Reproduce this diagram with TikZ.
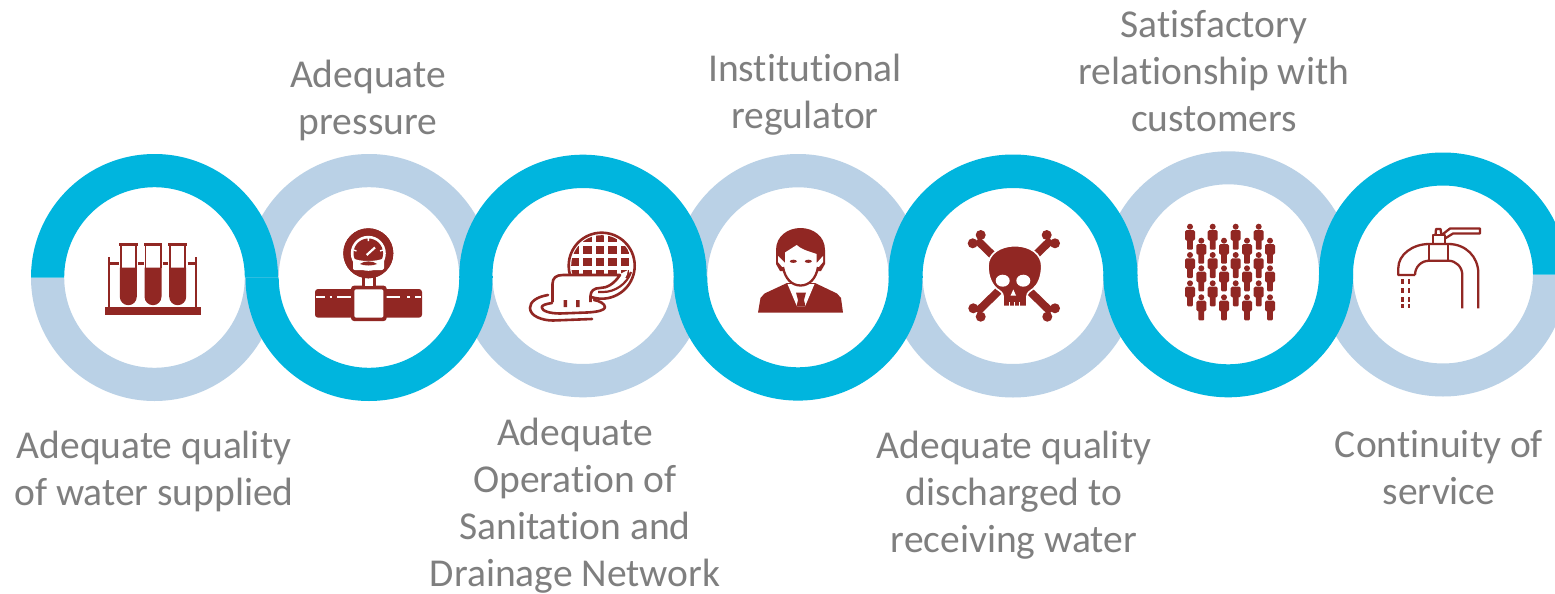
\documentclass[tikz,border=0pt]{standalone}
\usepackage{fontspec}
\setmainfont{Carlito}[Ligatures=NoCommon]
\definecolor{ringblue}{HTML}{00B5DE}
\definecolor{ringlight}{HTML}{BAD1E6}
\definecolor{iconred}{HTML}{912723}
\definecolor{labelgrey}{HTML}{7F7F7F}
\tikzset{
  lbl/.style={text=labelgrey,align=center,inner sep=0pt,font=\fontsize{39.5}{47}\selectfont},
  iconline/.style={draw=iconred,line width=2.3pt,line join=round}
}
% cx cy Rx Ry rx ry colour endangle (0 = upper half, 360 = lower half)
\newcommand{\halfring}[8]{\fill[#7] ({#1-#3},#2) arc[start angle=180,end angle=#8,x radius=#3pt,y radius=#4pt] -- ({#1+#5},#2) arc[start angle=#8,end angle=180,x radius=#5pt,y radius=#6pt] -- cycle;}
\newcommand{\personicon}[2]{%
  \fill[iconred] (#1,#2) circle[radius=3pt];
  \fill[iconred,rounded corners=1.5pt] ({#1-5},{#2+3.4}) rectangle ({#1+5},{#2+14});
  \fill[iconred,rounded corners=1pt] ({#1-2.9},{#2+10}) rectangle ({#1+2.9},{#2+23});
}
\begin{document}
\begin{tikzpicture}[x=1pt,y=-1pt]
\clip (0,0) rectangle (1555,594);
\fill[white] (0,0) rectangle (1555,594);
% rings: light halves below, blue halves above
\halfring{154.5}{277.5}{123.5}{123.5}{90.3}{90.3}{ringlight}{360}
\halfring{369}{277.5}{123.5}{123.5}{90.3}{90.3}{ringlight}{0}
\halfring{583}{276}{123.7}{121.3}{90.6}{88}{ringlight}{360}
\halfring{798}{277.3}{124.4}{123.3}{90.7}{90}{ringlight}{0}
\halfring{1013}{276}{124.5}{121.5}{90.4}{88}{ringlight}{360}
\halfring{1228.2}{274.3}{124.9}{123}{90.8}{90}{ringlight}{0}
\halfring{1443}{274.5}{124}{122}{90}{89}{ringlight}{360}
\halfring{154.5}{277.5}{123.5}{123.5}{90.3}{90.3}{ringblue}{0}
\halfring{369}{277.5}{123.5}{123.5}{90.3}{90.3}{ringblue}{360}
\fill[ringblue] (459.3,275.5) rectangle (492.5,278);
\halfring{583}{276}{123.7}{121.3}{90.6}{88}{ringblue}{0}
\fill[ringblue] (673.6,275.5) rectangle (706.7,277.8);
\halfring{798}{277.3}{124.4}{123.3}{90.7}{90}{ringblue}{360}
\fill[ringblue] (888.6,275.5) rectangle (922.5,277.8);
\halfring{1013}{276}{124.5}{121.5}{90.4}{88}{ringblue}{0}
\halfring{1228.2}{274.3}{124.9}{123}{90.8}{90}{ringblue}{360}
\fill[ringblue] (1319,274) rectangle (1353,275);
\halfring{1443}{274.5}{124}{122}{90}{89}{ringblue}{0}
% icon 1: test tubes
\fill[iconred] (105,306.7) rectangle (201,315);
\foreach \c in {128.3,153,177.7}{
  \fill[iconred] ({\c-9.3},243) rectangle ({\c+9.3},246);
  \draw[iconred,line width=1.8pt] ({\c-7.6},245) -- ({\c-7.6},268) ({\c+7.6},245) -- ({\c+7.6},268);
  \fill[iconred] ({\c-8.5},267.7) -- ({\c-8.5},296.7) arc[start angle=180,end angle=360,radius=8.5pt] -- ({\c+8.5},267.7) -- cycle;
}
\draw[iconline,line width=2.4pt] (109,263.5) -- (118.5,263.5) (138,263.5) -- (143.5,263.5) (162.5,263.5) -- (168,263.5) (187.5,263.5) -- (196,263.5);
\draw[iconline,line width=2.2pt] (109,307) -- (109,256.7) (196,307) -- (196,256.7);
% icon 2: gauge on pipe
\fill[iconred,rounded corners=3pt] (315,289) rectangle (422,317.7);
\draw[white,line width=2pt] (316,297.3) -- (325,297.3) (329.5,297.3) -- (332,297.3) (337,297.3) -- (351,297.3) (386,297.3) -- (400,297.3) (407,297.3) -- (410,297.3) (415,297.3) -- (421,297.3);
\fill[iconred,rounded corners=3pt] (351,285.7) rectangle (386.7,321);
\fill[white,rounded corners=1.5pt] (354.3,289.3) rectangle (383.3,317.7);
\fill[iconred] (361.7,275) rectangle (376,286);
\fill[white] (364.5,278) rectangle (373.2,286);
\fill[iconred] (368.3,253.3) circle[radius=25pt];
\fill[white] (368.3,253.3) circle[radius=17.5pt];
\fill[iconred] (368.3,253.3) circle[radius=14.8pt];
\draw[white,line width=2.2pt] (366.7,255) -- (375,247.5);
\draw[white,line width=1.4pt] (368.3,238) -- (368.3,241) (353.5,250) -- (356.5,251) (383,250) -- (380,251);
\fill[white] (353,258) .. controls (358,262) and (378,262) .. (384,258) -- (384,270) -- (353,270) -- cycle;
\fill[iconred] (360,264) .. controls (364,260.5) and (373,260.5) .. (377,264) .. controls (373,266) and (364,266) .. (360,264) -- cycle;
\draw[iconred,line width=3pt] (368.3,253.3) circle[radius=23.5pt];
% icon 3: manhole
\begin{scope}
\clip (601.7,265.7) circle[radius=30.5pt];
\foreach \gx in {-2,-1,0,1,2}{\foreach \gy in {-1,0,1,2}{
  \fill[iconred] ({600+12.5*\gx-4.4},{250+12*\gy-4.4}) rectangle ({600+12.5*\gx+4.4},{250+12*\gy+4.4});
}}
\end{scope}
\draw[iconred,line width=2.6pt] (601.7,265.7) circle[radius=33pt];
\fill[white] (552,302) -- (552,284) .. controls (552,278) and (556,275) .. (563,275) -- (618,275) .. controls (612,284) and (607,288) .. (600,288) .. controls (594,288) and (590,291) .. (590,296) -- (590,302) -- cycle;
\fill[white] (618,275) -- (628,270) .. controls (626,283) and (614,292) .. (602,292) -- (596,292) .. controls (607,288) and (612,284) .. (618,275) -- cycle;
\draw[iconline,line width=2.6pt] (552.5,302) -- (552.5,284) .. controls (552.5,278) and (556,275) .. (563,275) -- (620,275) .. controls (614,284) and (607,288) .. (600,288) .. controls (594,288) and (590.5,291) .. (590.5,296) -- (590.5,302);
\draw[iconline,line width=2.2pt] (598,292) -- (603,292) .. controls (615,292) and (627,284) .. (631,272);
\fill[iconred] (563.5,300) rectangle (567,307) (576,300) rectangle (579.5,307);
\draw[iconline,line cap=round,line width=2.6pt] (548,295) .. controls (536,297) and (530,302) .. (530,308) .. controls (530,316) and (542,320.5) .. (553,320.5) -- (592,319);
\draw[iconline,line cap=round,line width=2.6pt] (552,303) .. controls (545,304) and (541.7,305.5) .. (541.7,307.3) .. controls (541.7,311) and (550,313.5) .. (560,313.5) -- (587,312.5) .. controls (598,312) and (605,310) .. (605,307.3) .. controls (605,304) and (600,301) .. (594,300);
% icon 4: man
\fill[iconred] (758,312.7) -- (760.5,298) -- (764.5,293.5) -- (787,283) -- (815,283) -- (837,293.5) -- (841,298) -- (843,312.7) -- cycle;
\fill[white] (787.5,284) -- (797,306.5) -- (805,306.5) -- (814.5,284) -- cycle;
\fill[iconred] (796,292.5) -- (806,292.5) -- (804,300) -- (805.5,306.5) -- (796.5,306.5) -- (798,300) -- cycle;
\fill[iconred] (776,264) -- (776,250) .. controls (776,236) and (788,228) .. (800.5,228) .. controls (813,228) and (825,236) .. (825,250) -- (825,264) -- (821,271) -- (780,271) -- cycle;
\fill[white] (785,252.5) -- (796.7,245) .. controls (802,250) and (811,252) .. (816.7,254) -- (816.7,263) -- (823,256) -- (823,262) -- (818,268) .. controls (816,279) and (809,285) .. (800.5,285) .. controls (792,285) and (785,279) .. (783,268) -- (778,262) -- (778,256) -- (785,263) -- cycle;
\draw[iconline] (783,267) .. controls (785,279) and (792,285.5) .. (800.5,285.5) .. controls (809,285.5) and (816,279) .. (818,267);
\fill[iconred] (793.3,261.3) ellipse[x radius=3.5pt,y radius=1.6pt];
\fill[iconred] (808.3,261.3) ellipse[x radius=3.5pt,y radius=1.6pt];
% icon 5: skull
\draw[iconred,line width=8pt] (977,240) -- (1051,312) (1051,240) -- (977,312);
\foreach \kx/\ky in {980.7/235,972.7/243.3,1046.7/235,1055/243.3,973.3/308.3,980.7/316.7,1055/308.3,1047.3/316.7}{
  \fill[iconred] (\kx,\ky) circle[radius=5pt];
}
\fill[iconred,draw=white,line width=1.6pt] (1015,245.7) .. controls (1030,245.7) and (1041.7,254) .. (1041.7,266) .. controls (1041.7,277) and (1038,285) .. (1033,289) .. controls (1030,291) and (1027,293) .. (1027,296) -- (1027,306.5) -- (1003,306.5) -- (1003,296) .. controls (1003,293) and (1000,291) .. (997,289) .. controls (992,285) and (988,277) .. (988,266) .. controls (988,254) and (1000,245.7) .. (1015,245.7) -- cycle;
\fill[white] (1002.7,280.7) ellipse[x radius=7pt,y radius=6pt];
\fill[white] (1023.3,280.7) ellipse[x radius=7pt,y radius=6pt];
\fill[white] (1013.3,289.5) -- (1016,295.5) -- (1010.6,295.5) -- cycle;
\draw[white,line width=1pt] (1009,302) -- (1009,306.5) (1014,302) -- (1014,306.5) (1019,302) -- (1019,306.5);
% icon 6: crowd
\foreach \px in {1190,1212.7,1235.7,1258.7}{\foreach \py in {226.7,255,283.3}{\personicon{\px}{\py}}}
\foreach \px in {1201.3,1224,1247,1270}{\foreach \py in {240.7,268.3,297.3}{\personicon{\px}{\py}}}
% icon 7: tap
\draw[iconline] (1415,275) -- (1398.3,275) -- (1398.3,268) .. controls (1398.3,255) and (1412,244) .. (1429.3,244) -- (1448.3,244) .. controls (1466,244) and (1478.3,257) .. (1478.3,273.3) -- (1478.3,308.3);
\draw[iconline] (1415,275) .. controls (1415,267) and (1421,260.7) .. (1429.3,260.7) -- (1448.3,260.7) .. controls (1456,260.7) and (1462.3,267) .. (1462.3,275) -- (1462.3,308.3);
\draw[iconline] (1429.3,244) -- (1429.3,260.7) (1448.3,244) -- (1448.3,260.7);
\draw[iconline] (1433.3,244) -- (1433.3,235) -- (1445,235) -- (1445,244);
\draw[iconline] (1435.5,235) -- (1436,229) -- (1440.5,229) -- (1441.5,235);
\draw[iconline] (1441.7,235) -- (1450,228.5) -- (1480,228.5) -- (1480,233.5) -- (1453,233.5) -- (1445,238.5);
\foreach \dx in {1402.3,1409}{\foreach \dy in {279,288,297,303.5}{
  \fill[iconred] ({\dx-1.4},\dy) rectangle ({\dx+1.4},{\dy+4.5});
}}
% labels
\node[lbl] (l1) at (154,471) {Adequate quality\\of water supplied};
\node[lbl] (l2) at (368,100) {Adequate\\pressure};
\node[lbl] (l3) at (575,506) {Adequate\\Operation of\\Sanitation and\\Drainage Network};
\node[lbl] (l4) at (805,95) {Institutional\\regulator};
\node[lbl] (l5) at (1014,495) {Adequate quality\\discharged to\\receiving water};
\node[lbl] (l6) at (1214,71) {Satisfactory\\relationship with\\customers};
\node[lbl] (l7) at (1439,468) {Continuity of\\service};
\end{tikzpicture}
\end{document}
